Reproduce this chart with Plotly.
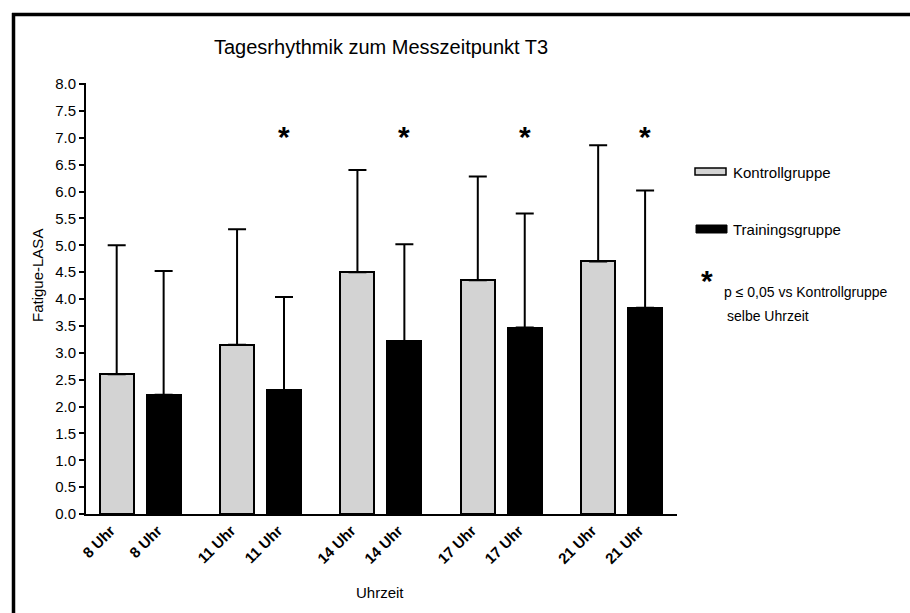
import plotly.graph_objects as go

groups = ["8 Uhr", "11 Uhr", "14 Uhr", "17 Uhr", "21 Uhr"]
kontroll_mean = [2.60, 3.15, 4.50, 4.35, 4.70]
kontroll_sd = [2.40, 2.15, 1.90, 1.93, 2.16]
training_mean = [2.22, 2.30, 3.22, 3.47, 3.84]
training_sd = [2.30, 1.74, 1.80, 2.12, 2.18]
significant = [False, True, True, True, True]
star_level = 7.08
y_ticks = [i * 0.5 for i in range(17)]

FONT = "Arial, Liberation Sans, sans-serif"
off = 0.195
bw = 0.283
xk = [i - off for i in range(len(groups))]
xt = [i + off for i in range(len(groups))]

fig = go.Figure()
fig.add_trace(go.Bar(
    x=xk, y=kontroll_mean, width=bw, name="Kontrollgruppe",
    marker=dict(color="#d3d3d3", line=dict(color="black", width=2)),
    error_y=dict(type="data", array=kontroll_sd, arrayminus=[0]*5, symmetric=False,
                 color="black", thickness=2, width=9),
    showlegend=False))
fig.add_trace(go.Bar(
    x=xt, y=training_mean, width=bw, name="Trainingsgruppe",
    marker=dict(color="black", line=dict(color="black", width=2)),
    error_y=dict(type="data", array=training_sd, arrayminus=[0]*5, symmetric=False,
                 color="black", thickness=2, width=9),
    showlegend=False))

tickvals = []
ticktext = []
for i, g in enumerate(groups):
    tickvals += [xk[i], xt[i]]
    ticktext += [f"<b>{g}</b>", f"<b>{g}</b>"]

annotations = []
for i, s in enumerate(significant):
    if s:
        annotations.append(dict(x=xt[i], y=star_level, xref="x", yref="y", text="<b>*</b>",
                                showarrow=False, font=dict(size=30, family=FONT, color="black"),
                                yanchor="middle", yshift=-3))

# legend (custom) and titles, in pixel coordinates
annotations += [
    dict(x=731, y=172, xref="paper", yref="paper", text="Kontrollgruppe", showarrow=False,
         xanchor="left", yanchor="middle", font=dict(size=15, family=FONT, color="black")),
    dict(x=731, y=229, xref="paper", yref="paper", text="Trainingsgruppe", showarrow=False,
         xanchor="left", yanchor="middle", font=dict(size=15, family=FONT, color="black")),
    dict(x=707, y=280, xref="paper", yref="paper", text="<b>*</b>", showarrow=False,
         xanchor="center", yanchor="middle", font=dict(size=30, family=FONT, color="black")),
    dict(x=722, y=292, xref="paper", yref="paper", text="p \u2264 0,05 vs Kontrollgruppe", showarrow=False,
         xanchor="left", yanchor="middle", font=dict(size=14, family=FONT, color="black")),
    dict(x=725, y=316, xref="paper", yref="paper", text="selbe Uhrzeit", showarrow=False,
         xanchor="left", yanchor="middle", font=dict(size=14, family=FONT, color="black")),
    dict(x=380, y=592, xref="paper", yref="paper", text="Uhrzeit", showarrow=False,
         xanchor="center", yanchor="middle", font=dict(size=15, family=FONT, color="black")),
    dict(x=37, y=276, xref="paper", yref="paper", text="Fatigue-LASA", showarrow=False, textangle=-90,
         xanchor="center", yanchor="middle", font=dict(size=15, family=FONT, color="black")),
    dict(x=381, y=47, xref="paper", yref="paper", text="Tagesrhythmik zum Messzeitpunkt T3", showarrow=False,
         xanchor="center", yanchor="middle", font=dict(size=20, family=FONT, color="black")),
]

W, H = 910, 613
L, R, T, B = 86, 910 - 677, 83, 613 - 514
pw, ph = W - L - R, H - T - B
for a in annotations:
    if a["xref"] == "paper":
        a["x"] = (a["x"] - L) / pw
        a["y"] = 1 - (a["y"] - T) / ph

shapes = [
    dict(type="rect", xref="paper", yref="paper",
         x0=(695 - L) / pw, x1=(726 - L) / pw, y0=1 - (168 - T) / ph, y1=1 - (175 - T) / ph,
         fillcolor="#d3d3d3", line=dict(color="black", width=1.5)),
    dict(type="rect", xref="paper", yref="paper",
         x0=(696 - L) / pw, x1=(727 - L) / pw, y0=1 - (225 - T) / ph, y1=1 - (233 - T) / ph,
         fillcolor="black", line=dict(color="black", width=1)),
    dict(type="line", xref="paper", yref="paper",
         x0=(13.5 - L) / pw, x1=(13.5 - L) / pw, y0=1 - (H + 5 - T) / ph, y1=1 - (13 - T) / ph,
         line=dict(color="black", width=3.5)),
    dict(type="line", xref="paper", yref="paper",
         x0=(12 - L) / pw, x1=(W + 5 - L) / pw, y0=1 - (14.5 - T) / ph, y1=1 - (14.5 - T) / ph,
         line=dict(color="black", width=3.5)),
]

fig.update_layout(
    width=W, height=H,
    margin=dict(l=L, r=R, t=T, b=B),
    paper_bgcolor="white", plot_bgcolor="white",
    font=dict(family=FONT, color="black"),
    xaxis=dict(range=[-0.45, 4.46], tickvals=tickvals, ticktext=ticktext, tickangle=-45,
               ticks="", showgrid=False, zeroline=False, showline=True, linecolor="black",
               linewidth=2, tickfont=dict(size=15, family=FONT, color="black"),
               ticklabelshift=-6),
    yaxis=dict(range=[0, 8.02], tickvals=y_ticks, tickformat=".1f", ticks="outside", ticklen=5,
               tickwidth=1.5, tickcolor="black", showgrid=False, zeroline=False, showline=True,
               linecolor="black", linewidth=2, tickfont=dict(size=15, family=FONT, color="black"),
               tickprefix="<b>", ticksuffix="</b>"),
    annotations=annotations,
    shapes=shapes,
    bargap=0,
)

fig.write_html("out.html")
